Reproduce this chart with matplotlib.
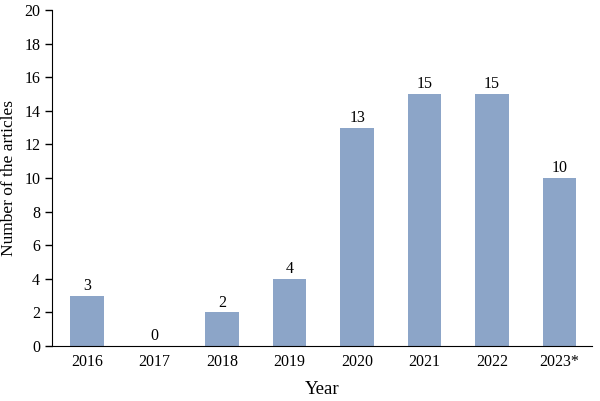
import matplotlib
matplotlib.use("Agg")
import matplotlib.pyplot as plt

years = ["2016", "2017", "2018", "2019", "2020", "2021", "2022", "2023*"]
counts = [3, 0, 2, 4, 13, 15, 15, 10]

plt.rcParams['font.family'] = ['Liberation Serif', 'DejaVu Serif']
fig = plt.figure(figsize=(6, 4.01), dpi=100)
ax = fig.add_axes([52/600, 55/401, 540/600, 336/401])
x = list(range(len(years)))
bars = ax.bar(x, counts, width=0.5, color='#8CA5C8')
for xi, v in zip(x, counts):
    ax.text(xi, v + 0.1, str(v), ha='center', va='bottom', fontsize=11.5)
ax.set_xlim(-0.52, 7.48)
ax.set_ylim(0, 20)
ax.set_yticks(range(0, 21, 2))
ax.set_xticks(x)
ax.set_xticklabels(years)
ax.tick_params(axis='x', length=0, labelsize=11.5, pad=6)
ax.tick_params(axis='y', length=5, labelsize=11.5, direction='out', width=1)
ax.spines['top'].set_visible(False)
ax.spines['right'].set_visible(False)
ax.set_xlabel('Year', fontsize=13.5, labelpad=8)
ax.set_ylabel('Number of the articles', fontsize=12.5, labelpad=5)
fig.savefig('out.png', dpi=100)
